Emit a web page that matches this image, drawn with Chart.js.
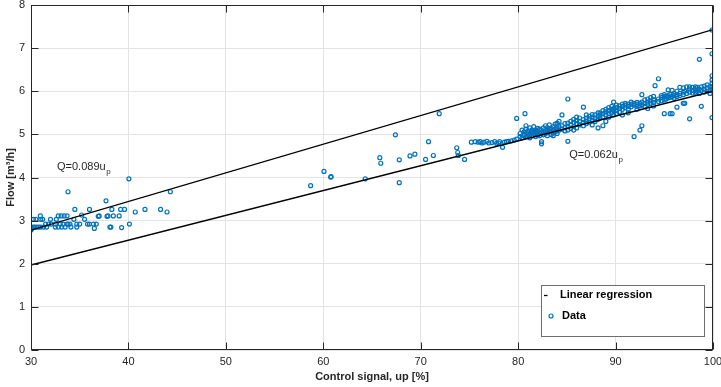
<!DOCTYPE html>
<html><head><meta charset="utf-8">
<script src="https://cdn.jsdelivr.net/npm/chart.js@4/dist/chart.umd.min.js"></script>
<style>html,body{margin:0;padding:0;background:#fff}</style>
</head><body>
<canvas id="c" width="721" height="387"></canvas>
<script>
// ---- data (control signal u [%], flow Q [m3/h]) ----
const xTickValues = [30,40,50,60,70,80,90,100];
const yTickValues = [0,1,2,3,4,5,6,7,8];
const regU = [30, 100];
const regLowQ = [1.97, 6.00];
const regHighQ = [2.78, 7.43];
const annotations = [
  {text:'Q=0.089u', sub:'p', u:32.67, q:4.18},
  {text:'Q=0.062u', sub:'p', u:85.25, q:4.45}
];
const legendLabels = ['Linear regression','Data'];

const lowPoints = [
[30.0,2.78],[30.0,2.85],[30.1,2.82],[30.25,2.85],[30.25,3.03],[30.4,2.85],[30.5,3.03],[30.6,2.85],[30.8,2.85],
[30.96,3.11],[31.0,3.03],[31.0,2.85],[31.2,3.03],[31.3,2.85],[31.5,2.92],[31.6,2.85],[31.8,2.92],[32.0,3.03],
[32.1,2.92],[32.5,2.92],[32.5,2.85],[32.6,3.03],[32.8,3.11],[32.8,2.85],[33.0,2.92],[33.1,3.11],[33.15,2.85],
[33.3,2.92],[33.4,3.11],[33.5,2.85],[33.7,3.11],[33.7,2.92],[33.8,2.92],[33.8,3.67],[34.0,2.92],[34.1,2.85],
[34.4,3.03],[34.5,3.26],[34.7,2.92],[34.7,2.85],[35.0,2.92],[35.2,3.13],[35.5,3.03],[35.8,2.92],[36.0,2.92],
[36.0,3.26],[36.4,2.92],[36.5,2.82],[36.7,2.92],[36.9,3.10],[37.0,3.11],[37.7,3.46],[37.8,3.10],[37.9,3.11],
[38.1,2.85],[38.2,2.85],[38.3,3.26],[38.45,3.11],[39.05,3.11],[39.2,3.26],[39.3,2.84],[39.6,3.26],[40.05,3.97],
[40.1,2.92],[40.7,3.20],[41.7,3.26],[43.3,3.26],[43.96,3.20],[44.3,3.67]
];
const midPoints = [
[58.7,3.81],[60.07,4.14],[60.76,4.01],[60.8,4.02],[64.3,3.97],[65.8,4.46],[65.9,4.33],[67.4,4.99],[67.8,4.41],
[67.8,3.88],[68.9,4.50],[69.4,4.54],[70.5,4.42],[70.8,4.83],[71.3,4.51],[71.9,5.48],[73.7,4.69],[73.8,4.58],
[73.86,4.51],[74.5,4.42],[75.2,4.82],[75.6,4.83],[75.9,4.82],[76.1,4.83],[76.3,4.80],[76.5,4.82],[76.8,4.84],
[77.0,4.80],[77.3,4.81],[77.6,4.83],[77.8,4.79],[78.0,4.80],[78.1,4.83],[78.4,4.70],[78.6,4.82],[78.8,4.83],
[79.0,4.84],[79.3,4.85],[79.6,4.87],[79.85,4.89],[79.85,5.37]
];
const highPoints = [
[80.2,4.95],[80.2,5.02],[80.4,4.92],[80.4,5.10],[80.6,5.00],[80.6,5.06],[80.6,4.97],[80.7,5.48],
[80.8,5.12],[80.8,4.95],[80.8,5.20],[81.0,5.03],[81.0,5.08],[81.0,4.98],[81.2,5.15],[81.2,5.00],[81.2,4.92],
[81.4,5.05],[81.4,5.10],[81.4,4.96],[81.6,5.02],[81.6,5.18],[81.6,5.08],[81.8,4.95],[81.8,5.10],[81.8,5.05],
[82.0,5.08],[82.0,5.00],[82.0,5.14],[82.0,4.98],[82.2,5.12],[82.2,5.05],[82.2,4.97],[82.4,4.78],[82.4,4.83],
[82.4,5.10],[82.4,5.03],[82.6,5.15],[82.6,5.06],[82.6,4.99],[82.8,5.08],[82.8,5.20],[82.8,5.02],[83.0,5.10],
[83.0,5.04],[83.0,5.16],[83.0,4.97],[83.2,5.12],[83.2,5.06],[83.2,5.22],[83.4,5.00],[83.4,5.14],[83.4,5.08],
[83.6,5.18],[83.6,5.10],[83.6,5.03],[83.6,4.97],[83.8,5.12],[83.8,5.24],[83.8,5.06],[84.0,5.26],[84.0,5.15],
[84.0,5.08],[84.0,5.02],[84.2,5.30],[84.2,5.18],[84.2,5.10],[84.5,5.45],[84.5,5.12],[84.5,5.20],[84.8,5.16],
[84.8,5.25],[84.8,5.08],[85.1,5.82],[85.1,4.84],[85.1,5.18],[85.1,5.10],[85.1,5.26],[85.4,5.22],[85.4,5.30],
[85.4,5.14],[85.7,5.28],[85.7,5.18],[85.7,5.35],[85.7,5.10],[86.0,5.25],[86.0,5.32],[86.0,5.15],[86.0,5.40],
[86.3,5.30],[86.3,5.22],[86.3,5.38],[86.7,5.63],[86.7,5.28],[86.7,5.34],[86.7,5.20],[87.0,5.45],[87.0,5.30],
[87.0,5.38],[87.0,5.25],[87.3,5.36],[87.3,5.42],[87.3,5.28],[87.6,5.40],[87.6,5.32],[87.6,5.46],[87.6,5.22],
[87.9,5.38],[87.9,5.45],[87.9,5.30],[88.2,5.42],[88.2,5.50],[88.2,5.35],[88.2,5.15],[88.4,5.50],[88.4,5.45],
[88.4,5.38],[88.7,5.48],[88.7,5.55],[88.7,5.40],[88.7,5.20],[89.0,5.52],[89.0,5.45],[89.0,5.58],[89.0,5.30],
[89.3,5.55],[89.3,5.48],[89.3,5.62],[89.3,5.40],[89.6,5.58],[89.6,5.50],[89.6,5.65],[89.8,5.75],[89.8,5.55],
[89.8,5.60],[89.8,5.45],[90.1,5.62],[90.1,5.55],[90.1,5.68],[90.1,5.48],[90.4,5.60],[90.4,5.66],[90.4,5.52],
[90.7,5.65],[90.7,5.58],[90.7,5.70],[90.7,5.45],[91.0,5.68],[91.0,5.62],[91.0,5.72],[91.3,5.65],[91.3,5.70],
[91.3,5.58],[91.3,5.50],[91.6,5.70],[91.6,5.64],[91.6,5.75],[91.9,4.95],[91.9,5.68],[91.9,5.72],[92.2,5.70],
[92.2,5.65],[92.2,5.74],[92.2,5.58],[92.5,5.10],[92.5,5.72],[92.5,5.66],[92.7,5.20],[92.7,5.92],[92.7,5.75],
[92.7,5.68],[93.0,5.72],[93.0,5.80],[93.0,5.65],[93.3,5.75],[93.3,5.70],[93.3,5.82],[93.3,5.60],[93.6,5.78],
[93.6,5.72],[93.6,5.85],[93.9,5.80],[93.9,5.74],[93.9,5.88],[93.9,5.66],[94.05,6.13],[94.4,6.29],[94.4,5.82],
[94.4,5.76],[94.7,5.85],[94.7,5.78],[94.7,5.90],[95.0,5.88],[95.0,5.80],[95.0,5.48],[95.0,5.92],[95.2,5.88],
[95.2,5.82],[95.4,6.03],[95.4,5.85],[95.4,5.90],[95.6,5.48],[95.6,5.92],[95.6,5.86],[95.8,6.02],[95.8,5.48],
[95.8,5.88],[96.0,5.90],[96.0,5.95],[96.0,5.84],[96.3,5.63],[96.3,5.92],[96.3,6.00],[96.3,5.88],[96.6,6.09],
[96.6,5.95],[96.6,5.90],[96.95,5.72],[96.95,6.08],[96.95,5.98],[96.95,5.92],[97.1,5.72],[97.1,6.00],[97.3,6.10],
[97.3,5.95],[97.6,5.36],[97.6,6.05],[97.6,5.98],[97.6,6.10],[97.9,6.09],[97.9,6.02],[97.9,5.96],[98.2,6.10],
[98.2,6.04],[98.2,5.98],[98.4,6.09],[98.4,6.00],[98.6,6.74],[98.6,6.05],[98.6,5.95],[98.8,5.65],[98.8,6.02],
[98.8,6.10],[99.1,6.05],[99.1,5.98],[99.1,6.12],[99.4,6.08],[99.4,6.00],[99.4,6.15],[99.7,6.10],[99.7,6.02],
[99.7,5.95],[99.9,7.42],[99.9,6.87],[99.9,6.36],[99.9,6.26],[99.9,6.19],[99.9,6.10],[99.9,6.05],[99.9,5.39]
];

// ---- build datasets ----
const toXY = arr => arr.map(p => ({x:p[0], y:p[1]}));
const scatterData = toXY(lowPoints.concat(midPoints, highPoints));
const lineLow = regU.map((u,i) => ({x:u, y:regLowQ[i]}));
const lineHigh = regU.map((u,i) => ({x:u, y:regHighQ[i]}));

const BLUE = '#0072BD';
const TXT = '#262626';
const FONT = '"Liberation Sans", Arial, Helvetica, sans-serif';

const framePlugin = {
  id: 'frame',
  afterDatasetsDraw(chart) {
    const {ctx, chartArea, scales} = chart;
    const {left, right, top, bottom} = chartArea;
    const x = scales.x, y = scales.y;
    ctx.save();
    ctx.strokeStyle = TXT;
    ctx.lineWidth = 1;
    ctx.beginPath();
    const L = Math.round(left)+0.5, R = Math.round(right)-0.5, T = Math.round(top)+0.5, B = Math.round(bottom)-0.5;
    xTickValues.forEach(v => {
      const p = Math.round(x.getPixelForValue(v)) + 0.5;
      ctx.moveTo(p, B); ctx.lineTo(p, B - 7);
      ctx.moveTo(p, T); ctx.lineTo(p, T + 7);
    });
    yTickValues.forEach(v => {
      const p = Math.round(y.getPixelForValue(v)) + 0.5;
      ctx.moveTo(L, p); ctx.lineTo(L + 7, p);
      ctx.moveTo(R, p); ctx.lineTo(R - 7, p);
    });
    ctx.stroke();
    ctx.strokeRect(L, T, R - L, B - T);

    // annotations
    ctx.fillStyle = TXT;
    ctx.textBaseline = 'alphabetic';
    ctx.textAlign = 'left';
    annotations.forEach(a => {
      const px = x.getPixelForValue(a.u), py = y.getPixelForValue(a.q);
      ctx.font = '11px ' + FONT;
      ctx.fillText(a.text, px, py);
      const w = ctx.measureText(a.text).width;
      ctx.font = '8px ' + FONT;
      ctx.fillText(a.sub, px + w + 0.5, py + 4);
    });

    // legend
    const lx = right - 172, ly = bottom - 65, lw = 163, lh = 51;
    ctx.fillStyle = '#fff';
    ctx.fillRect(lx, ly, lw, lh);
    ctx.strokeStyle = '#6e6e6e';
    ctx.strokeRect(Math.round(lx)+0.5, Math.round(ly)+0.5, lw, lh);
    ctx.strokeStyle = '#000';
    ctx.lineWidth = 1.3;
    ctx.beginPath();
    ctx.moveTo(lx + 3, ly + 10.5); ctx.lineTo(lx + 6.5, ly + 10.5);
    ctx.stroke();
    ctx.strokeStyle = BLUE;
    ctx.lineWidth = 1.2;
    ctx.beginPath();
    ctx.arc(lx + 10, ly + 31, 2, 0, Math.PI*2);
    ctx.stroke();
    ctx.fillStyle = '#000';
    ctx.font = 'bold 11px ' + FONT;
    ctx.textBaseline = 'middle';
    ctx.fillText(legendLabels[0], lx + 19, ly + 10);
    ctx.fillText(legendLabels[1], lx + 21, ly + 31);
    ctx.restore();
  }
};

new Chart(document.getElementById('c'), {
  type: 'scatter',
  data: {
    datasets: [
      {label: legendLabels[0], type: 'line', data: lineHigh, borderColor: '#000', borderWidth: 1.3, pointRadius: 0, fill: false, order: 1},
      {label: legendLabels[0], type: 'line', data: lineLow, borderColor: '#000', borderWidth: 1.3, pointRadius: 0, fill: false, order: 1},
      {label: legendLabels[1], data: scatterData, borderColor: BLUE, backgroundColor: 'rgba(0,0,0,0)',
       pointRadius: 2, pointBorderWidth: 1.2, pointHoverRadius: 2, order: 2}
    ]
  },
  options: {
    responsive: false,
    animation: false,
    devicePixelRatio: 1,
    layout: {padding: {top: 5, right: 8, left: 0, bottom: 0}},
    plugins: {legend: {display: false}, tooltip: {enabled: false}},
    scales: {
      x: {
        type: 'linear', min: 30, max: 100,
        afterFit: s => { s.height = 37; s.paddingLeft = 0; s.paddingRight = 0; },
        afterBuildTicks: s => { s.ticks = xTickValues.map(v => ({value: v})); },
        grid: {color: '#e3e3e3', lineWidth: 1, drawTicks: false},
        border: {display: false},
        ticks: {padding: 5, color: TXT, font: {family: FONT, size: 11}, maxRotation: 0},
        title: {display: true, text: 'Control signal, up [%]', color: TXT, font: {family: FONT, size: 11, weight: 'bold'}, padding: {top: 0, bottom: 3}}
      },
      y: {
        type: 'linear', min: 0, max: 8,
        afterFit: s => { s.width = 31; s.paddingTop = 0; s.paddingBottom = 0; },
        afterBuildTicks: s => { s.ticks = yTickValues.map(v => ({value: v})); },
        grid: {color: '#e3e3e3', lineWidth: 1, drawTicks: false},
        border: {display: false},
        ticks: {padding: 6, color: TXT, font: {family: FONT, size: 11}},
        title: {display: true, text: 'Flow [m³/h]', color: TXT, font: {family: FONT, size: 11, weight: 'bold'}, padding: {top: 4, bottom: 0}}
      }
    }
  },
  plugins: [framePlugin]
});
</script>
</body></html>
